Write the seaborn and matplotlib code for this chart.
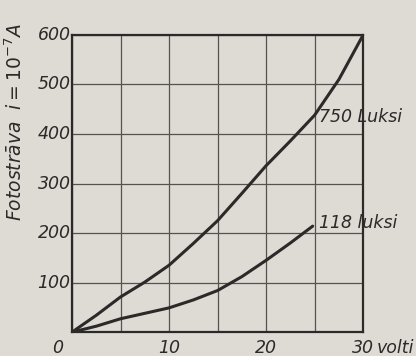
import matplotlib
matplotlib.use("Agg")
import matplotlib.pyplot as plt
import seaborn as sns
import pandas as pd

volts_750 = [0, 2.5, 5, 7.5, 10, 12.5, 15, 17.5, 20, 22.5, 25, 27.5, 30]
current_750 = [0, 34, 71, 101, 135, 179, 225, 280, 336, 386, 438, 510, 600]
volts_118 = [0, 2.5, 5, 7.5, 10, 12.5, 15, 17.5, 20, 22.5, 24.8]
current_118 = [0, 12, 27, 38, 49, 65, 84, 112, 145, 180, 214]
x_ticks = [10, 20, 30]
y_ticks = [100, 200, 300, 400, 500, 600]

df = pd.concat([
    pd.DataFrame({"U": volts_750, "I": current_750, "s": "750 Luksi"}),
    pd.DataFrame({"U": volts_118, "I": current_118, "s": "118 luksi"}),
])

sns.set_style("white")
bg = "#dedbd5"
ink = "#2b2a28"
fig = plt.figure(figsize=(4.16, 3.56), dpi=100, facecolor=bg)
ax = fig.add_axes([0.173, 0.067, 0.700, 0.835], facecolor=bg)

sns.lineplot(data=df, x="U", y="I", units="s", estimator=None, color=ink,
             linewidth=2.2, ax=ax, legend=False)

ax.set_xlim(0, 30)
ax.set_ylim(0, 600)
ax.set_xlabel("")
ax.set_ylabel("")
ax.set_xticks([0, 5, 10, 15, 20, 25, 30])
ax.set_yticks([0] + y_ticks)
ax.grid(True, color="#555350", linewidth=0.9)
for sp in ax.spines.values():
    sp.set_color(ink)
    sp.set_linewidth(1.6)
ax.tick_params(length=0, labelbottom=False, labelleft=False)

fs = 12.5
tfont = dict(style="italic", color=ink, fontsize=fs, family="DejaVu Sans")
for v in y_ticks:
    ax.text(-0.15, v, str(v), ha="right", va="center", **tfont)
for v in x_ticks:
    ax.text(v, -31, str(v), ha="center", va="center", **tfont)
ax.text(31.4, -31, "volti", ha="left", va="center", **tfont)
ax.text(-1.5, -31, "0", ha="center", va="center", **tfont)

ax.text(25.4, 435, "750 Luksi", ha="left", va="center", **tfont)
ax.text(25.5, 221, "118 luksi", ha="left", va="center", **tfont)
for t in ax.texts:
    t.set_clip_on(False)

fig.text(0.037, 0.657, "Fotostrāva  $i = 10^{-7}$A", rotation=90, ha="center",
         va="center", style="italic", color=ink, fontsize=13.5)

fig.savefig("out.png", dpi=100, facecolor=bg)
